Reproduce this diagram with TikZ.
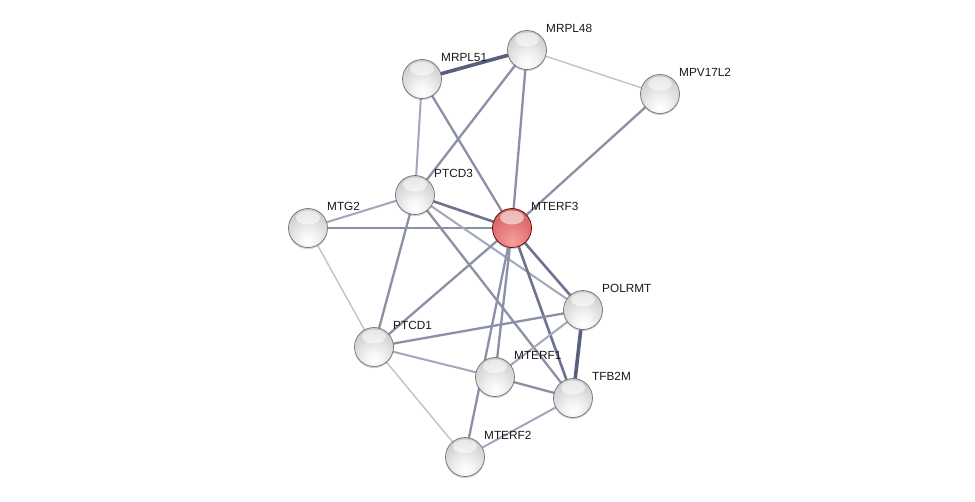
\documentclass[tikz,border=0pt]{standalone}
\usepackage{fontspec}
\setmainfont{Liberation Sans}
\usetikzlibrary{shadows}
\pgfdeclarelayer{background}
\pgfsetlayers{background,main}
\definecolor{edgeN}{HTML}{8C90A6}
\definecolor{edgeD}{HTML}{6E7390}
\definecolor{edgeT}{HTML}{5A5F7C}
\definecolor{edgeL}{HTML}{C0C2D0}
\definecolor{edgeM}{HTML}{A3A7BA}
\pgfdeclareradialshading{graysphere}{\pgfpoint{0bp}{-18bp}}{%
  color(0bp)=(white);
  color(10bp)=(white!96!black);
  color(28bp)=(white!84!black);
  color(44bp)=(white!72!black);
  color(58bp)=(white!55!black);
  color(80bp)=(white!55!black)}
\pgfdeclareradialshading{redsphere}{\pgfpoint{0bp}{-18bp}}{%
  color(0bp)=(rgb,255:red,246;green,160;blue,160);
  color(16bp)=(rgb,255:red,232;green,128;blue,128);
  color(34bp)=(rgb,255:red,212;green,98;blue,98);
  color(48bp)=(rgb,255:red,182;green,70;blue,70);
  color(58bp)=(rgb,255:red,150;green,40;blue,40);
  color(80bp)=(rgb,255:red,150;green,40;blue,40)}
\tikzset{
  sphere/.style={circle, minimum size=39pt, inner sep=0pt, line width=0.7pt,
    drop shadow={shadow xshift=0pt, shadow yshift=-1.6pt, opacity=0.35},
    path picture={\fill[white, opacity=0.55] ([yshift=-9pt]path picture bounding box.north) ellipse [x radius=12pt, y radius=7pt];}},
  gnode/.style={sphere, draw=black!55, shading=graysphere},
  rnode/.style={sphere, draw=red!40!black, shading=redsphere},
  lbl/.style={anchor=west, inner sep=0pt, font=\fontsize{11.8}{14}\selectfont, text=black!90},
  eN/.style={draw=edgeN, line width=2.3pt},
  eD/.style={draw=edgeD, line width=2.6pt},
  eT/.style={draw=edgeT, line width=3.6pt},
  eL/.style={draw=edgeL, line width=1.4pt},
  eM/.style={draw=edgeM, line width=2.0pt}
}
\begin{document}
\begin{tikzpicture}[x=1pt, y=-1pt]
\useasboundingbox (0,0) rectangle (975,501);
% nodes
\node[gnode] (mrpl48) at (527,50) {};
\node[gnode] (mrpl51) at (422,79) {};
\node[gnode] (mpv) at (660,94) {};
\node[gnode] (ptcd3) at (415,195) {};
\node[gnode] (mtg2) at (308,228) {};
\node[rnode] (mterf3) at (512,228) {};
\node[gnode] (polrmt) at (583,310) {};
\node[gnode] (ptcd1) at (374,347) {};
\node[gnode] (mterf1) at (495,377) {};
\node[gnode] (tfb2m) at (573,398) {};
\node[gnode] (mterf2) at (465,457) {};
% labels
\node[lbl] (l1) at ([xshift=19pt,yshift=22pt]mrpl48.center) {MRPL48};
\node[lbl] (l2) at ([xshift=19pt,yshift=22pt]mrpl51.center) {MRPL51};
\node[lbl] (l3) at ([xshift=19pt,yshift=22pt]mpv.center) {MPV17L2};
\node[lbl] (l4) at ([xshift=19pt,yshift=22pt]ptcd3.center) {PTCD3};
\node[lbl] (l5) at ([xshift=19pt,yshift=22pt]mtg2.center) {MTG2};
\node[lbl] (l6) at ([xshift=19pt,yshift=22pt]mterf3.center) {MTERF3};
\node[lbl] (l7) at ([xshift=19pt,yshift=22pt]polrmt.center) {POLRMT};
\node[lbl] (l8) at ([xshift=19pt,yshift=22pt]ptcd1.center) {PTCD1};
\node[lbl] (l9) at ([xshift=19pt,yshift=22pt]mterf1.center) {MTERF1};
\node[lbl] (l10) at ([xshift=19pt,yshift=22pt]tfb2m.center) {TFB2M};
\node[lbl] (l11) at ([xshift=19pt,yshift=22pt]mterf2.center) {MTERF2};
% edges
\begin{pgfonlayer}{background}
\fill[white] (0,0) rectangle (975,501);
\path[eT] (mrpl51.center) -- (mrpl48.center);
\path[eL] (mrpl48.center) -- (mpv.center);
\path[eN] (mrpl48.center) -- (ptcd3.center);
\path[eN] (mrpl48.center) -- (mterf3.center);
\path[eM] (mrpl51.center) -- (ptcd3.center);
\path[eN] (mrpl51.center) -- (mterf3.center);
\path[eN] (mpv.center) -- (mterf3.center);
\path[eM] (ptcd3.center) -- (mtg2.center);
\path[eD] (ptcd3.center) -- (mterf3.center);
\path[eN] (mtg2.center) -- (mterf3.center);
\path[eN] (ptcd3.center) -- (ptcd1.center);
\path[eM] (ptcd3.center) -- (polrmt.center);
\path[eN] (ptcd3.center) -- (tfb2m.center);
\path[eL] (mtg2.center) -- (ptcd1.center);
\path[eN] (mterf3.center) -- (ptcd1.center);
\path[eD] (mterf3.center) -- (polrmt.center);
\path[eD] (mterf3.center) -- (tfb2m.center);
\path[eN] (mterf3.center) -- (mterf1.center);
\path[eN] (mterf3.center) -- (mterf2.center);
\path[eT] (polrmt.center) -- (tfb2m.center);
\path[eN] (polrmt.center) -- (ptcd1.center);
\path[eM] (polrmt.center) -- (mterf1.center);
\path[eM] (ptcd1.center) -- (mterf1.center);
\path[eL] (ptcd1.center) -- (mterf2.center);
\path[eN] (mterf1.center) -- (tfb2m.center);
\path[eM] (mterf2.center) -- (tfb2m.center);
\end{pgfonlayer}
\end{tikzpicture}
\end{document}
